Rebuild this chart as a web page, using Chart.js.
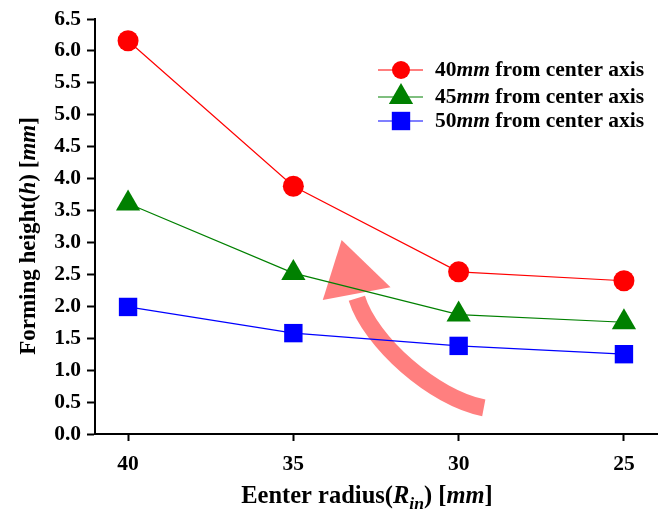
<!DOCTYPE html>
<html>
<head>
<meta charset="utf-8">
<script src="https://cdn.jsdelivr.net/npm/chart.js@4/dist/chart.umd.min.js"></script>
<style>
  html,body{margin:0;padding:0;background:#fff;}
  #wrap{width:671px;height:515px;position:relative;}
</style>
</head>
<body>
<div id="wrap"><canvas id="c" width="671" height="515"></canvas></div>
<script>
// entry radius (x), forming height (y)
const radii = [40, 35, 30, 25];
const h40 = [6.16, 3.88, 2.54, 2.40];
const h45 = [3.61, 2.52, 1.87, 1.75];
const h50 = [1.99, 1.58, 1.38, 1.25];
const yTicks = [0, 0.5, 1, 1.5, 2, 2.5, 3, 3.5, 4, 4.5, 5, 5.5, 6, 6.5];

// curved pink arrow, in data units (radius, height)
const arrowBody = [[29.24, 0.41], [30.75, 0.56], [32.67, 1.44], [33.08, 2.19]];
const arrowHead = [[33.54, 3.04], [34.11, 2.10], [32.06, 2.30]];

const SERIF = '"Liberation Serif", "Times New Roman", serif';

const series = [
  {label: '40', data: h40, color: '#ff0000', style: 'circle', r: 10.5, lr: 9},
  {label: '45', data: h45, color: '#008000', style: 'triangle', r: 14, lr: 14},
  {label: '50', data: h50, color: '#0000ff', style: 'rect', r: 13, lr: 13}
];

// draw a run of text pieces, some italic / subscript
function drawRich(ctx, parts, x, y, size, align){
  const fontOf = p => (p.it ? 'italic ' : '') + 'bold ' + (p.sub ? size*0.72 : size) + 'px ' + SERIF;
  let total = 0;
  parts.forEach(p => { ctx.font = fontOf(p); total += ctx.measureText(p.t).width; });
  let cx = align === 'center' ? x - total/2 : x;
  ctx.textBaseline = 'middle';
  ctx.textAlign = 'left';
  parts.forEach(p => {
    ctx.font = fontOf(p);
    ctx.fillText(p.t, cx, y + (p.sub ? size*0.3 : 0));
    cx += ctx.measureText(p.t).width;
  });
}

const extras = {
  id: 'extras',
  beforeDatasetsDraw(chart){
    const ctx = chart.ctx, xs = chart.scales.x, ys = chart.scales.y;
    const P = a => [xs.getPixelForValue(a[0]), ys.getPixelForValue(a[1])];
    const b = arrowBody.map(P), hd = arrowHead.map(P);
    ctx.save();
    ctx.strokeStyle = '#ff7f7f';
    ctx.fillStyle = '#ff7f7f';
    ctx.lineWidth = 17;
    ctx.lineCap = 'butt';
    ctx.beginPath();
    ctx.moveTo(b[0][0], b[0][1]);
    ctx.bezierCurveTo(b[1][0], b[1][1], b[2][0], b[2][1], b[3][0], b[3][1] + 4);
    ctx.stroke();
    ctx.beginPath();
    ctx.moveTo(hd[0][0], hd[0][1]);
    ctx.lineTo(hd[1][0], hd[1][1]);
    ctx.lineTo(hd[2][0], hd[2][1]);
    ctx.closePath();
    ctx.fill();
    ctx.restore();
  },
  afterDraw(chart){
    const ctx = chart.ctx;
    ctx.save();
    ctx.fillStyle = '#000';
    // x title
    drawRich(ctx, [{t:'Eenter radius('}, {t:'R', it:1}, {t:'in', it:1, sub:1}, {t:') ['}, {t:'mm', it:1}, {t:']'}],
      367, 497, 24.5, 'center');
    // y title
    ctx.translate(29, 236);
    ctx.rotate(-Math.PI/2);
    drawRich(ctx, [{t:'Forming height('}, {t:'h', it:1}, {t:') ['}, {t:'mm', it:1}, {t:']'}], 0, 0, 23, 'center');
    ctx.restore();

    // legend
    ctx.save();
    const rows = [70, 97, 121];
    series.forEach((s, i) => {
      const y = rows[i];
      ctx.strokeStyle = s.color;
      ctx.lineWidth = 1.2;
      ctx.beginPath();
      ctx.moveTo(378, y); ctx.lineTo(423, y);
      ctx.stroke();
      ctx.fillStyle = s.color;
      Chart.helpers.drawPoint(ctx, {pointStyle: s.style, radius: s.lr, rotation: 0, borderWidth: 0}, 401, y);
      ctx.fillStyle = '#000';
      drawRich(ctx, [{t: s.label}, {t:'mm', it:1}, {t:' from center axis'}], 435, y, 21.5, 'left');
    });
    ctx.restore();
  }
};

const tickFont = {family: SERIF, size: 21.5, weight: 'bold'};

new Chart(document.getElementById('c'), {
  type: 'line',
  data: {
    datasets: series.map(s => ({
      label: s.label + 'mm from center axis',
      data: radii.map((r, i) => ({x: r, y: s.data[i]})),
      borderColor: s.color,
      backgroundColor: s.color,
      borderWidth: 1.2,
      pointStyle: s.style,
      pointRadius: s.r,
      pointHoverRadius: s.r,
      pointBorderWidth: 0,
      tension: 0,
      clip: false
    }))
  },
  options: {
    responsive: false,
    animation: false,
    events: [],
    layout: {padding: {top: 19, right: 13, left: 0, bottom: 0}},
    plugins: {legend: {display: false}, tooltip: {enabled: false}},
    scales: {
      x: {
        type: 'linear',
        reverse: true,
        min: 24, max: 41,
        afterBuildTicks: sc => { sc.ticks = radii.map(v => ({value: v})); },
        afterFit: sc => { sc.height = 81; },
        ticks: {font: tickFont, color: '#000', padding: 11, maxRotation: 0, autoSkip: false},
        grid: {drawOnChartArea: false, drawTicks: true, tickLength: 7, tickColor: '#000', tickWidth: 2},
        border: {display: true, color: '#000', width: 2}
      },
      y: {
        min: 0, max: 6.5,
        afterBuildTicks: sc => { sc.ticks = yTicks.map(v => ({value: v})); },
        afterFit: sc => { sc.width = 95; },
        ticks: {font: tickFont, color: '#000', padding: 6, callback: v => Number(v).toFixed(1), autoSkip: false},
        grid: {drawOnChartArea: false, drawTicks: true, tickLength: 8, tickColor: '#000', tickWidth: 2},
        border: {display: true, color: '#000', width: 2}
      }
    }
  },
  plugins: [extras]
});
</script>
</body>
</html>
